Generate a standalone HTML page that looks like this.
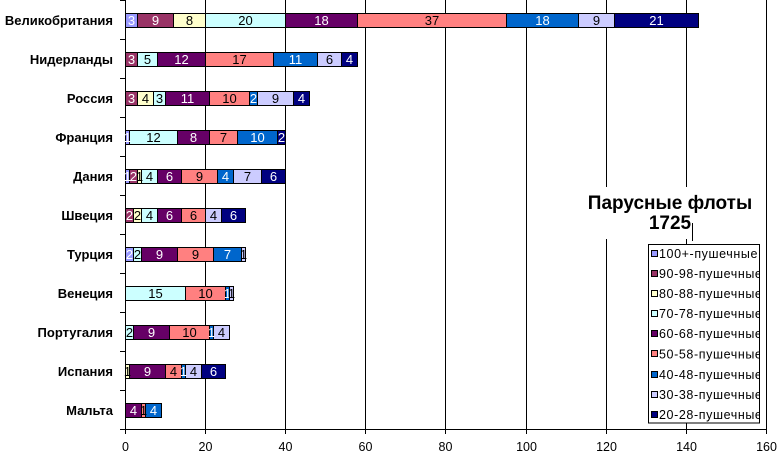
<!DOCTYPE html>
<html>
<head>
<meta charset="utf-8">
<style>
html,body{margin:0;padding:0;background:#fff;}
svg{display:block;}
text{font-family:"Liberation Sans",Arial,"Noto Sans CJK SC",sans-serif;}
.seg rect{stroke:#000;stroke-width:1;}
.lb{font-size:13px;text-anchor:middle;}
.w{fill:#fff;}
.b{fill:#000;}
.cat{font-size:13px;font-weight:bold;text-anchor:end;fill:#000;}
.tk{font-size:12.5px;text-anchor:middle;fill:#000;}
.lg{font-size:12.5px;letter-spacing:0.6px;fill:#000;}
</style>
</head>
<body>
<svg width="780" height="455" viewBox="0 0 780 455" xmlns="http://www.w3.org/2000/svg">
<defs>
<clipPath id="lgclip"><rect x="648" y="244" width="111" height="180"/></clipPath>
</defs>
<rect x="0" y="0" width="780" height="455" fill="#fff"/>

<g stroke="#000" stroke-width="1" shape-rendering="crispEdges">
<line x1="205.5" y1="0" x2="205.5" y2="429.5"/>
<line x1="285.5" y1="0" x2="285.5" y2="429.5"/>
<line x1="365.5" y1="0" x2="365.5" y2="429.5"/>
<line x1="445.5" y1="0" x2="445.5" y2="429.5"/>
<line x1="526.5" y1="0" x2="526.5" y2="429.5"/>
<line x1="606.5" y1="0" x2="606.5" y2="429.5"/>
<line x1="686.5" y1="0" x2="686.5" y2="429.5"/>
<line x1="766.5" y1="0" x2="766.5" y2="429.5"/>
<line x1="125.5" y1="0" x2="125.5" y2="429.5"/>
<line x1="125.5" y1="429.5" x2="766.5" y2="429.5"/>
<line x1="125.5" y1="429.5" x2="125.5" y2="434"/>
<line x1="205.5" y1="429.5" x2="205.5" y2="434"/>
<line x1="285.5" y1="429.5" x2="285.5" y2="434"/>
<line x1="365.5" y1="429.5" x2="365.5" y2="434"/>
<line x1="445.5" y1="429.5" x2="445.5" y2="434"/>
<line x1="526.5" y1="429.5" x2="526.5" y2="434"/>
<line x1="606.5" y1="429.5" x2="606.5" y2="434"/>
<line x1="686.5" y1="429.5" x2="686.5" y2="434"/>
<line x1="766.5" y1="429.5" x2="766.5" y2="434"/>
<line x1="120" y1="0.5" x2="125.5" y2="0.5"/>
<line x1="120" y1="39.5" x2="125.5" y2="39.5"/>
<line x1="120" y1="78.5" x2="125.5" y2="78.5"/>
<line x1="120" y1="117.5" x2="125.5" y2="117.5"/>
<line x1="120" y1="156.5" x2="125.5" y2="156.5"/>
<line x1="120" y1="195.5" x2="125.5" y2="195.5"/>
<line x1="120" y1="234.5" x2="125.5" y2="234.5"/>
<line x1="120" y1="273.5" x2="125.5" y2="273.5"/>
<line x1="120" y1="312.5" x2="125.5" y2="312.5"/>
<line x1="120" y1="351.5" x2="125.5" y2="351.5"/>
<line x1="120" y1="390.5" x2="125.5" y2="390.5"/>
<line x1="120" y1="429.5" x2="125.5" y2="429.5"/>
</g>

<g class="seg" shape-rendering="crispEdges">
<rect x="125.5" y="13.5" width="12" height="14" fill="#9999FF"/>
<rect x="137.5" y="13.5" width="36" height="14" fill="#993366"/>
<rect x="173.5" y="13.5" width="32" height="14" fill="#FFFFCC"/>
<rect x="205.5" y="13.5" width="80" height="14" fill="#CCFFFF"/>
<rect x="285.5" y="13.5" width="72" height="14" fill="#660066"/>
<rect x="357.5" y="13.5" width="149" height="14" fill="#FF8080"/>
<rect x="506.5" y="13.5" width="72" height="14" fill="#0066CC"/>
<rect x="578.5" y="13.5" width="36" height="14" fill="#CCCCFF"/>
<rect x="614.5" y="13.5" width="84" height="14" fill="#000080"/>
<rect x="125.5" y="52.5" width="12" height="14" fill="#993366"/>
<rect x="137.5" y="52.5" width="20" height="14" fill="#CCFFFF"/>
<rect x="157.5" y="52.5" width="48" height="14" fill="#660066"/>
<rect x="205.5" y="52.5" width="68" height="14" fill="#FF8080"/>
<rect x="273.5" y="52.5" width="44" height="14" fill="#0066CC"/>
<rect x="317.5" y="52.5" width="24" height="14" fill="#CCCCFF"/>
<rect x="341.5" y="52.5" width="16" height="14" fill="#000080"/>
<rect x="125.5" y="91.5" width="12" height="14" fill="#993366"/>
<rect x="137.5" y="91.5" width="16" height="14" fill="#FFFFCC"/>
<rect x="153.5" y="91.5" width="12" height="14" fill="#CCFFFF"/>
<rect x="165.5" y="91.5" width="44" height="14" fill="#660066"/>
<rect x="209.5" y="91.5" width="40" height="14" fill="#FF8080"/>
<rect x="249.5" y="91.5" width="8" height="14" fill="#0066CC"/>
<rect x="257.5" y="91.5" width="36" height="14" fill="#CCCCFF"/>
<rect x="293.5" y="91.5" width="16" height="14" fill="#000080"/>
<rect x="125.5" y="130.5" width="4" height="14" fill="#9999FF"/>
<rect x="129.5" y="130.5" width="48" height="14" fill="#CCFFFF"/>
<rect x="177.5" y="130.5" width="32" height="14" fill="#660066"/>
<rect x="209.5" y="130.5" width="28" height="14" fill="#FF8080"/>
<rect x="237.5" y="130.5" width="40" height="14" fill="#0066CC"/>
<rect x="277.5" y="130.5" width="8" height="14" fill="#000080"/>
<rect x="125.5" y="169.5" width="4" height="14" fill="#9999FF"/>
<rect x="129.5" y="169.5" width="8" height="14" fill="#993366"/>
<rect x="137.5" y="169.5" width="4" height="14" fill="#FFFFCC"/>
<rect x="141.5" y="169.5" width="16" height="14" fill="#CCFFFF"/>
<rect x="157.5" y="169.5" width="24" height="14" fill="#660066"/>
<rect x="181.5" y="169.5" width="36" height="14" fill="#FF8080"/>
<rect x="217.5" y="169.5" width="16" height="14" fill="#0066CC"/>
<rect x="233.5" y="169.5" width="28" height="14" fill="#CCCCFF"/>
<rect x="261.5" y="169.5" width="24" height="14" fill="#000080"/>
<rect x="125.5" y="208.5" width="8" height="14" fill="#993366"/>
<rect x="133.5" y="208.5" width="8" height="14" fill="#FFFFCC"/>
<rect x="141.5" y="208.5" width="16" height="14" fill="#CCFFFF"/>
<rect x="157.5" y="208.5" width="24" height="14" fill="#660066"/>
<rect x="181.5" y="208.5" width="24" height="14" fill="#FF8080"/>
<rect x="205.5" y="208.5" width="16" height="14" fill="#CCCCFF"/>
<rect x="221.5" y="208.5" width="24" height="14" fill="#000080"/>
<rect x="125.5" y="247.5" width="8" height="14" fill="#9999FF"/>
<rect x="133.5" y="247.5" width="8" height="14" fill="#CCFFFF"/>
<rect x="141.5" y="247.5" width="36" height="14" fill="#660066"/>
<rect x="177.5" y="247.5" width="36" height="14" fill="#FF8080"/>
<rect x="213.5" y="247.5" width="28" height="14" fill="#0066CC"/>
<rect x="241.5" y="247.5" width="4" height="14" fill="#CCCCFF"/>
<rect x="125.5" y="286.5" width="60" height="14" fill="#CCFFFF"/>
<rect x="185.5" y="286.5" width="40" height="14" fill="#FF8080"/>
<rect x="225.5" y="286.5" width="4" height="14" fill="#0066CC"/>
<rect x="229.5" y="286.5" width="4" height="14" fill="#CCCCFF"/>
<rect x="125.5" y="325.5" width="8" height="14" fill="#CCFFFF"/>
<rect x="133.5" y="325.5" width="36" height="14" fill="#660066"/>
<rect x="169.5" y="325.5" width="40" height="14" fill="#FF8080"/>
<rect x="209.5" y="325.5" width="4" height="14" fill="#0066CC"/>
<rect x="213.5" y="325.5" width="16" height="14" fill="#CCCCFF"/>
<rect x="125.5" y="364.5" width="4" height="14" fill="#FFFFCC"/>
<rect x="129.5" y="364.5" width="36" height="14" fill="#660066"/>
<rect x="165.5" y="364.5" width="16" height="14" fill="#FF8080"/>
<rect x="181.5" y="364.5" width="4" height="14" fill="#0066CC"/>
<rect x="185.5" y="364.5" width="16" height="14" fill="#CCCCFF"/>
<rect x="201.5" y="364.5" width="24" height="14" fill="#000080"/>
<rect x="125.5" y="403.5" width="16" height="14" fill="#660066"/>
<rect x="141.5" y="403.5" width="4" height="14" fill="#FF8080"/>
<rect x="145.5" y="403.5" width="16" height="14" fill="#0066CC"/>
</g>

<g class="lb">
<text x="131.5" y="25" class="w">3</text>
<text x="155.5" y="25" class="w">9</text>
<text x="189.5" y="25" class="b">8</text>
<text x="245.5" y="25" class="b">20</text>
<text x="321.5" y="25" class="w">18</text>
<text x="432" y="25" class="b">37</text>
<text x="542.5" y="25" class="w">18</text>
<text x="596.5" y="25" class="b">9</text>
<text x="656.5" y="25" class="w">21</text>
<text x="131.5" y="64" class="w">3</text>
<text x="147.5" y="64" class="b">5</text>
<text x="181.5" y="64" class="w">12</text>
<text x="239.5" y="64" class="b">17</text>
<text x="295.5" y="64" class="w">11</text>
<text x="329.5" y="64" class="b">6</text>
<text x="349.5" y="64" class="w">4</text>
<text x="131.5" y="103" class="w">3</text>
<text x="145.5" y="103" class="b">4</text>
<text x="159.5" y="103" class="b">3</text>
<text x="187.5" y="103" class="w">11</text>
<text x="229.5" y="103" class="b">10</text>
<text x="253.5" y="103" class="w">2</text>
<text x="275.5" y="103" class="b">9</text>
<text x="301.5" y="103" class="w">4</text>
<text x="127.5" y="142" class="w">1</text>
<text x="153.5" y="142" class="b">12</text>
<text x="193.5" y="142" class="w">8</text>
<text x="223.5" y="142" class="b">7</text>
<text x="257.5" y="142" class="w">10</text>
<text x="281.5" y="142" class="w">2</text>
<text x="127.5" y="181" class="w">1</text>
<text x="133.5" y="181" class="w">2</text>
<text x="139.5" y="181" class="b">1</text>
<text x="149.5" y="181" class="b">4</text>
<text x="169.5" y="181" class="w">6</text>
<text x="199.5" y="181" class="b">9</text>
<text x="225.5" y="181" class="w">4</text>
<text x="247.5" y="181" class="b">7</text>
<text x="273.5" y="181" class="w">6</text>
<text x="129.5" y="220" class="w">2</text>
<text x="137.5" y="220" class="b">2</text>
<text x="149.5" y="220" class="b">4</text>
<text x="169.5" y="220" class="w">6</text>
<text x="193.5" y="220" class="b">6</text>
<text x="213.5" y="220" class="b">4</text>
<text x="233.5" y="220" class="w">6</text>
<text x="129.5" y="259" class="w">2</text>
<text x="137.5" y="259" class="b">2</text>
<text x="159.5" y="259" class="w">9</text>
<text x="195.5" y="259" class="b">9</text>
<text x="227.5" y="259" class="w">7</text>
<text x="243.5" y="259" class="b">1</text>
<text x="155.5" y="298" class="b">15</text>
<text x="205.5" y="298" class="b">10</text>
<text x="227.5" y="298" class="w">1</text>
<text x="231.5" y="298" class="b">1</text>
<text x="129.5" y="337" class="b">2</text>
<text x="151.5" y="337" class="w">9</text>
<text x="189.5" y="337" class="b">10</text>
<text x="211.5" y="337" class="w">1</text>
<text x="221.5" y="337" class="b">4</text>
<text x="127.5" y="376" class="b">1</text>
<text x="147.5" y="376" class="w">9</text>
<text x="173.5" y="376" class="b">4</text>
<text x="183.5" y="376" class="w">1</text>
<text x="193.5" y="376" class="b">4</text>
<text x="213.5" y="376" class="w">6</text>
<text x="133.5" y="415" class="w">4</text>
<text x="143.5" y="415" class="b">1</text>
<text x="153.5" y="415" class="w">4</text>
</g>

<g class="cat">
<text x="113" y="25">Великобритания</text>
<text x="113" y="64">Нидерланды</text>
<text x="113" y="103">Россия</text>
<text x="113" y="142">Франция</text>
<text x="113" y="181">Дания</text>
<text x="113" y="220">Швеция</text>
<text x="113" y="259">Турция</text>
<text x="113" y="298">Венеция</text>
<text x="113" y="337">Португалия</text>
<text x="113" y="376">Испания</text>
<text x="113" y="415">Мальта</text>
</g>

<g class="tk">
<text x="125.5" y="451">0</text>
<text x="205.5" y="451">20</text>
<text x="285.5" y="451">40</text>
<text x="365.5" y="451">60</text>
<text x="445.5" y="451">80</text>
<text x="526.5" y="451">100</text>
<text x="606.5" y="451">120</text>
<text x="686.5" y="451">140</text>
<text x="766.5" y="451">160</text>
</g>

<rect x="580" y="187" width="179" height="52" fill="#fff"/>
<text x="670" y="209" font-size="19" font-weight="bold" text-anchor="middle" fill="#000">Парусные флоты</text>
<text x="670" y="229" font-size="19" font-weight="bold" text-anchor="middle" fill="#000">1725</text>
<line x1="692.5" y1="223" x2="692.5" y2="241" stroke="#000" stroke-width="1" shape-rendering="crispEdges"/>

<rect x="648.5" y="244.5" width="111" height="178.5" fill="#fff" stroke="#000" stroke-width="1" shape-rendering="crispEdges"/>
<g shape-rendering="crispEdges" stroke="#000" stroke-width="1">
<rect x="651.5" y="250.5" width="6" height="6" fill="#9999FF"/>
<rect x="651.5" y="270.5" width="6" height="6" fill="#993366"/>
<rect x="651.5" y="290.5" width="6" height="6" fill="#FFFFCC"/>
<rect x="651.5" y="310.5" width="6" height="6" fill="#CCFFFF"/>
<rect x="651.5" y="330.5" width="6" height="6" fill="#660066"/>
<rect x="651.5" y="350.5" width="6" height="6" fill="#FF8080"/>
<rect x="651.5" y="371.5" width="6" height="6" fill="#0066CC"/>
<rect x="651.5" y="391.5" width="6" height="6" fill="#CCCCFF"/>
<rect x="651.5" y="411.5" width="6" height="6" fill="#000080"/>
</g>
<g class="lg" clip-path="url(#lgclip)">
<text x="659" y="258">100+-пушечные</text>
<text x="659" y="278">90-98-пушечные</text>
<text x="659" y="298">80-88-пушечные</text>
<text x="659" y="318">70-78-пушечные</text>
<text x="659" y="338">60-68-пушечные</text>
<text x="659" y="358.5">50-58-пушечные</text>
<text x="659" y="379">40-48-пушечные</text>
<text x="659" y="399">30-38-пушечные</text>
<text x="659" y="419">20-28-пушечные</text>
</g>
</svg>
</body>
</html>
